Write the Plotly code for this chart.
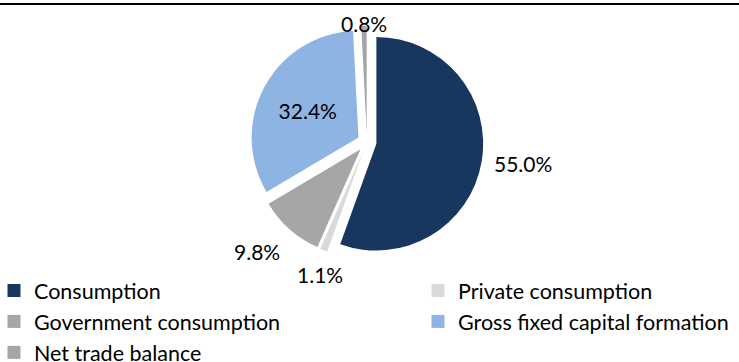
import math
import plotly.graph_objects as go

categories = ["Consumption", "Private consumption", "Government consumption",
              "Gross fixed capital formation", "Net trade balance"]
values = [55.0, 1.1, 9.8, 32.4, 0.8]
colors = ["#17375E", "#D9D9D9", "#A6A6A6", "#8EB4E3", "#A5A5A5"]
label_inside = [False, False, False, True, False]
legend_column = ["legend", "legend2", "legend", "legend2", "legend"]
labels_text = [f"{v:.1f}%" for v in values]

W, H = 739, 362
FONT = "Lato"
PULL = 0.09
DOM_X = [0.339, 0.654]
DOM_Y = [0.285, 0.930]
LABEL_GAP = 11      # px between pulled slice edge and outside label
TOP_LIMIT = 9       # px, labels kept below the top rule

fig = go.Figure()
fig.add_trace(go.Pie(
    labels=categories,
    values=values,
    text=[t if ins else "" for t, ins in zip(labels_text, label_inside)],
    textinfo="text",
    textposition=["inside" if ins else "none" for ins in label_inside],
    insidetextorientation="horizontal",
    textfont=dict(family=FONT, size=21, color="#000000"),
    marker=dict(colors=colors, line=dict(width=0)),
    pull=[PULL] * len(values),
    sort=False,
    direction="clockwise",
    rotation=0,
    domain=dict(x=DOM_X, y=DOM_Y),
    hoverinfo="label+percent",
    showlegend=False,
))

# outside labels, positioned from the slice angles (outside-end style)
box_w = (DOM_X[1] - DOM_X[0]) * W
box_h = (DOM_Y[1] - DOM_Y[0]) * H
r_px = min(box_w, box_h) / 2 / (1 + PULL)
cx_px = (DOM_X[0] + DOM_X[1]) / 2 * W
cy_px = (1 - (DOM_Y[0] + DOM_Y[1]) / 2) * H
total = sum(values)
cum = 0.0
for v, txt, ins in zip(values, labels_text, label_inside):
    mid = (cum + v / 2) / total * 2 * math.pi
    cum += v
    if ins:
        continue
    dx, dy = math.sin(mid), -math.cos(mid)   # screen direction (y down)
    dist = r_px * (1 + PULL) + LABEL_GAP
    px = cx_px + dist * dx
    py = cy_px + dist * dy
    xanchor = "left" if dx > 0.5 else ("right" if dx < -0.5 else "center")
    yanchor = "top" if dy > 0.5 else ("bottom" if dy < -0.5 else "middle")
    if yanchor == "bottom" and py - 28 < TOP_LIMIT:
        yanchor, py = "top", TOP_LIMIT
    fig.add_annotation(
        x=px / W, y=1 - py / H, xref="paper", yref="paper",
        text=txt, showarrow=False, xanchor=xanchor, yanchor=yanchor,
        font=dict(family=FONT, size=21, color="#000000"),
    )

# legend entries (two columns) built from the same category / colour arrays
for name, col, leg in zip(categories, colors, legend_column):
    fig.add_trace(go.Scatter(
        x=[None], y=[None], mode="markers", name=name,
        marker=dict(symbol="square", size=13, color=col),
        legend=leg, showlegend=True, hoverinfo="skip",
    ))

fig.add_shape(type="line", xref="paper", yref="paper",
              x0=0, x1=1, y0=1 - 4 / H, y1=1 - 4 / H,
              line=dict(color="#000000", width=2))

legend_common = dict(
    orientation="v",
    yanchor="top",
    font=dict(family=FONT, size=21.5, color="#000000"),
    itemwidth=30,
    tracegroupgap=0,
    bgcolor="rgba(0,0,0,0)",
    borderwidth=0,
    xanchor="left",
)

fig.update_layout(
    width=W, height=H,
    margin=dict(l=0, r=0, t=0, b=0, autoexpand=False),
    paper_bgcolor="#FFFFFF",
    plot_bgcolor="#FFFFFF",
    font=dict(family=FONT, color="#000000"),
    showlegend=True,
    xaxis=dict(visible=False),
    yaxis=dict(visible=False),
    legend=dict(x=-6 / W, y=1 - 270 / H, **legend_common),
    legend2=dict(x=418 / W, y=1 - 270 / H, **legend_common),
)

fig.write_html("out.html")
